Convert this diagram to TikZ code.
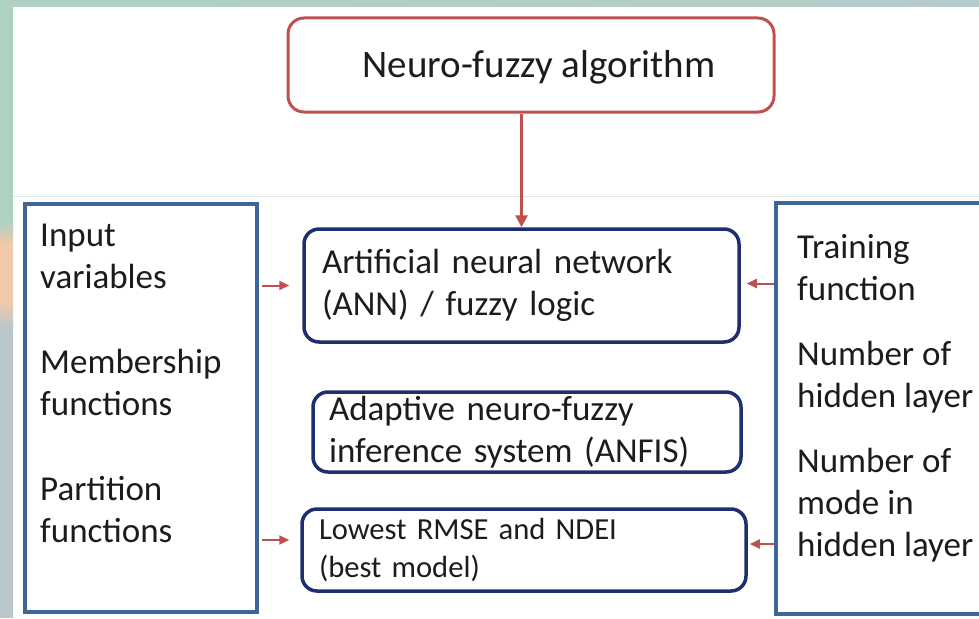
\documentclass[tikz,border=0pt]{standalone}
\usepackage{fontspec}
\setmainfont{Carlito}
\usetikzlibrary{arrows.meta}

\definecolor{algored}{HTML}{C0504D}
\definecolor{innavy}{HTML}{1F2F6E}
\definecolor{sideblue}{HTML}{3F6497}
\definecolor{stripgreen}{HTML}{AFD1C1}
\definecolor{stripgrey}{HTML}{B5CACA}
\definecolor{strippeach}{HTML}{F2C9AA}
\definecolor{stripblue}{HTML}{B8C7CC}
\definecolor{rulegreen}{HTML}{DCEAE6}
\definecolor{inktext}{HTML}{1C1C1C}

\tikzset{
  mainfont/.style={font=\fontsize{35pt}{42pt}\selectfont, text=inktext},
  smallfont/.style={font=\fontsize{30.6pt}{38pt}\selectfont, text=inktext},
  titlebox/.style={draw=algored, line width=3pt, rounded corners=16pt,
    fill=white, font=\fontsize{39pt}{46pt}\selectfont, text=inktext},
  methodbox/.style={draw=innavy, line width=3.5pt, rounded corners=15pt,
    fill=white, align=left, inner ysep=0pt},
  sidebox/.style={draw=sideblue, line width=4pt, fill=white},
  sidetext/.style={mainfont, align=left, anchor=north west, inner sep=0pt},
  redarrow/.style={draw=algored, line width=2pt,
    -{Triangle[length=10pt,width=9pt]}},
}

\begin{document}
\begin{tikzpicture}[x=1pt,y=-1pt]
  \useasboundingbox (0,0) rectangle (979,618);
  \path[clip] (0,0) rectangle (979,618);
  \fill[white] (0,0) rectangle (979,618);

  % coloured strips along the top and the left edge
  \shade[left color=stripgreen, right color=stripgrey] (0,0) rectangle (979,7);
  \fill[stripgreen] (0,0) rectangle (13,222);
  \shade[top color=stripgreen, bottom color=strippeach] (0,222) rectangle (13,245);
  \fill[strippeach] (0,245) rectangle (13,300);
  \shade[top color=strippeach, bottom color=stripblue] (0,300) rectangle (13,330);
  \fill[stripblue] (0,330) rectangle (13,618);
  \draw[rulegreen, line width=1pt] (13,196) -- (979,196);

  % top algorithm box (text baseline placed explicitly)
  \node[titlebox, minimum width=486pt, minimum height=94pt] (algo) at (531,65)
    {\hspace*{16pt}\raisebox{-12.5pt}[0pt][0pt]{Neuro-fuzzy algorithm}};

  % side boxes
  \node[sidebox, minimum width=232pt, minimum height=408pt] (inbox) at (141,408) {};
  \node[sidebox, minimum width=224pt, minimum height=411pt] (outbox) at (888,408.5) {};

  \node[sidetext] (intext) at (40,224)
    {Input\\variables\\[43pt]Membership\\functions\\[43pt]Partition\\functions};
  \node[sidetext] (outtext) at (797,234)
    {Training\\function\\[23pt]Number of\\hidden layer\\[23pt]Number of\\mode in\\hidden layer};

  % method boxes in the middle
  \node[methodbox, mainfont, minimum width=435pt, minimum height=113pt,
        inner xsep=18pt, text width=399pt] (ann) at (521.5,285.5)
    {Artificial neural network\\(ANN) / fuzzy logic};
  \node[methodbox, mainfont, minimum width=428pt, minimum height=80pt,
        inner xsep=16pt, text width=396pt] (anfis) at (527,432)
    {Adaptive neuro-fuzzy\\inference system (ANFIS)};
  \node[methodbox, smallfont, minimum width=444pt, minimum height=82pt,
        inner xsep=17pt, text width=410pt] (rmse) at (524,550)
    {Lowest RMSE and NDEI\\(best model)};

  % arrow end points on the method boxes
  \coordinate (annL) at (ann.west);
  \coordinate (annR) at ([yshift=2pt]ann.east);
  \coordinate (rmseL) at ([yshift=10pt]rmse.west);
  \coordinate (rmseR) at ([yshift=6pt]rmse.east);

  % connectors
  \draw[redarrow, line width=3pt, -{Triangle[length=12pt,width=12pt]}]
    (ann.north |- algo.south) -- (ann.north);
  \draw[redarrow, shorten <=3pt, shorten >=13pt]
    (inbox.east |- annL) -- (annL);
  \draw[redarrow, shorten <=3pt, shorten >=11pt]
    (inbox.east |- rmseL) -- (rmseL);
  \draw[redarrow, shorten >=6pt]
    (outbox.west |- annR) -- (annR);
  \draw[redarrow, shorten >=2pt]
    (outbox.west |- rmseR) -- (rmseR);
\end{tikzpicture}
\end{document}
